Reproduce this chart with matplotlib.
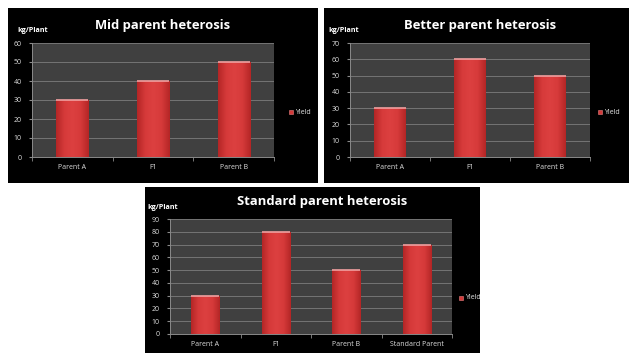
import matplotlib
matplotlib.use("Agg")
import matplotlib.pyplot as plt
import numpy as np
from matplotlib.colors import LinearSegmentedColormap

W, H = 629, 353

cats_top = ["Parent A", "F1", "Parent B"]
mid_yield = [30, 40, 50]
better_yield = [30, 60, 50]
cats_std = ["Parent A", "F1", "Parent B", "Standard Parent"]
std_yield = [30, 80, 50, 70]

titles = ["Mid parent heterosis", "Better parent heterosis", "Standard parent heterosis"]
ymaxes = [60, 70, 90]
series_name = "Yield"
unit = "kg/Plant"

fig = plt.figure(figsize=(W / 100, H / 100), dpi=100)
fig.patch.set_facecolor("white")


def fr(x0, y0, x1, y1):
    return [x0 / W, 1 - y1 / H, (x1 - x0) / W, (y1 - y0) / H]


bar_cmap = LinearSegmentedColormap.from_list(
    "bar", ["#b42626", "#d63a3a", "#dc4040", "#d63a3a", "#b42626"])

panels = [
    dict(box=(8, 8, 318, 183), plot=(32, 43, 274, 157), title=(163, 25),
         unit=(17, 31), leg=(289, 112), cats=cats_top, vals=mid_yield),
    dict(box=(324, 8, 629, 183), plot=(350, 43, 590, 157), title=(480, 25),
         unit=(328, 31), leg=(598, 112), cats=cats_top, vals=better_yield),
    dict(box=(145, 187, 480, 353), plot=(170, 219, 452, 334), title=(322, 202),
         unit=(147, 208), leg=(459, 298), cats=cats_std, vals=std_yield),
]

for i, p in enumerate(panels):
    bx0, by0, bx1, by1 = p["box"]
    bg = fig.add_axes(fr(*p["box"]))
    bg.set_facecolor("black")
    bg.set_xlim(bx0, bx1)
    bg.set_ylim(by1, by0)
    bg.set_xticks([])
    bg.set_yticks([])
    for s in bg.spines.values():
        s.set_visible(False)
    bg.text(p["title"][0], p["title"][1], titles[i], color="white",
            fontsize=9.4, fontweight="bold", family="Open Sans",
            ha="center", va="center", clip_on=True)
    bg.text(p["unit"][0], p["unit"][1], unit, color="white", fontsize=5.2,
            fontweight="bold", family="Open Sans", ha="left", va="center",
            clip_on=True)
    lx, ly = p["leg"]
    bg.add_patch(plt.Rectangle((lx, ly - 2), 4, 4, facecolor="#d43a3a",
                               edgecolor="#e88080", linewidth=0.4, clip_on=True))
    bg.text(lx + 6, ly, series_name, color="#e8e8e8", fontsize=5,
            family="Open Sans", ha="left", va="center", clip_on=True)

    ax = fig.add_axes(fr(*p["plot"]))
    ax.set_facecolor("#404040")
    n = len(p["cats"])
    x = np.arange(n)
    ymax = ymaxes[i]
    ax.set_xlim(-0.5, n - 0.5)
    ax.set_ylim(0, ymax)
    ax.set_yticks(np.arange(0, ymax + 1, 10))
    ax.yaxis.grid(True, color="#7c7c7c", linewidth=0.6)
    ax.set_axisbelow(True)
    bars = ax.bar(x, p["vals"], width=0.4, color="#d43a3a", zorder=2)
    grad = np.linspace(0, 1, 64).reshape(1, -1)
    for b in bars:
        x0 = b.get_x()
        w = b.get_width()
        h = b.get_height()
        im = ax.imshow(grad, cmap=bar_cmap, aspect="auto",
                       extent=(x0, x0 + w, 0, h), zorder=3)
        im.set_clip_path(b)
        ax.plot([x0, x0 + w], [h, h], color="#f0a0a0", linewidth=1.2,
                zorder=4, solid_capstyle="butt")
    ax.set_xticks(x)
    ax.set_xticklabels(p["cats"])
    ax.set_xticks(np.arange(-0.5, n, 1), minor=True)
    ax.tick_params(axis="x", which="major", length=0, colors="white",
                   labelsize=5, pad=5)
    ax.tick_params(axis="x", which="minor", length=3, color="#8a8a8a",
                   direction="out")
    ax.tick_params(axis="y", length=2.5, color="#8a8a8a", colors="white",
                   labelsize=5, pad=5)
    for lbl in ax.get_xticklabels() + ax.get_yticklabels():
        lbl.set_family("Open Sans")
        lbl.set_color("#dddddd")
    for name, s in ax.spines.items():
        if name in ("left", "bottom"):
            s.set_color("#8a8a8a")
            s.set_linewidth(0.7)
        else:
            s.set_visible(False)

fig.savefig("out.png", dpi=100, facecolor="white")
